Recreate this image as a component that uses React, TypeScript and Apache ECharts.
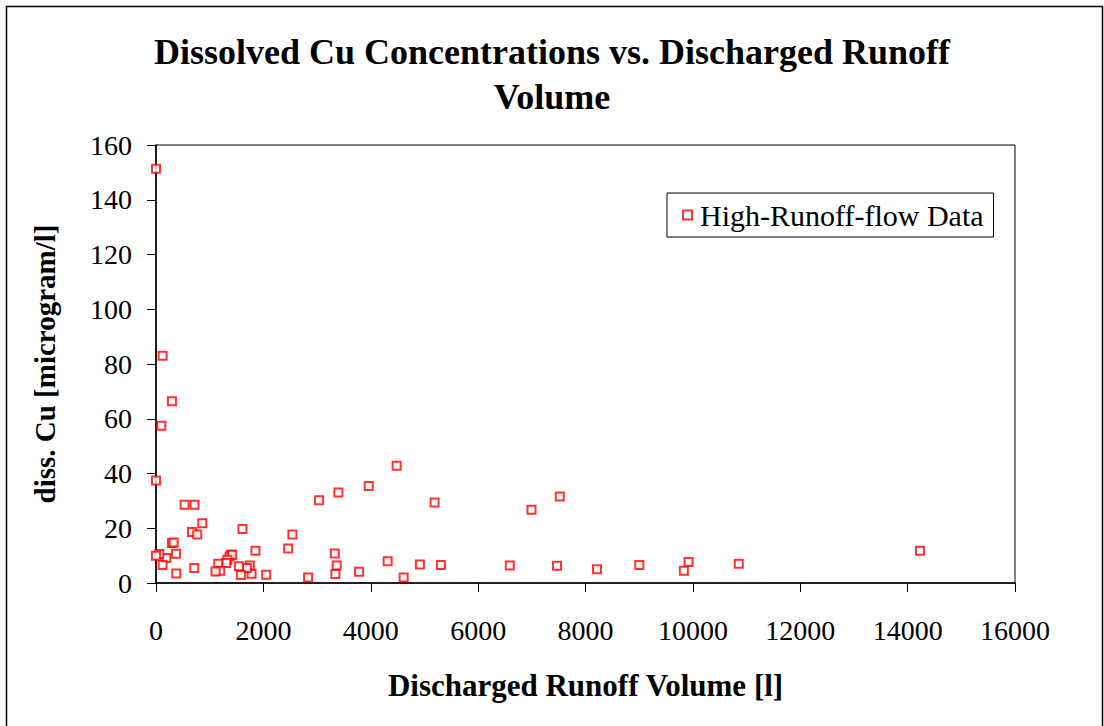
import React, { useEffect, useRef } from "react";
import * as echarts from "echarts";

const titleText = "Dissolved Cu Concentrations vs. Discharged Runoff\nVolume";
const xAxisName = "Discharged Runoff Volume [l]";
const yAxisName = "diss. Cu [microgram/l]";
const seriesName = "High-Runoff-flow Data";

const runoffVolume: number[] = [
  0, 123, 297, 99, 0, 532, 718, 861, 670, 768,
  1611, 2541, 2461, 1853, 3037, 3397, 3962, 4483, 5189, 3329,
  3366, 3341, 3782, 4315, 4613, 4916, 5307, 2833, 2052, 1779,
  1748, 1692, 1581, 1544, 1395, 1370, 1420, 1330, 1308, 1159,
  1196, 1109, 712, 378, 372, 297, 330, 192, 123, 62,
  0, 6994, 7520, 6590, 7470, 8214, 9002, 9919, 9832, 10855,
  14229,
];
const dissCu: number[] = [
  151.3, 83, 66.4, 57.4, 37.4, 28.6, 28.6, 21.8, 18.6, 17.7,
  19.7, 17.7, 12.6, 11.8, 30.2, 33.1, 35.4, 42.8, 29.4, 10.8,
  6.4, 3.3, 4.1, 7.9, 2.0, 6.8, 6.6, 2.0, 3.0, 3.4,
  6.4, 5.5, 2.9, 6.1, 10.3, 9.7, 10.3, 8.5, 7.3, 7.0,
  4.5, 4.2, 5.5, 3.5, 10.7, 14.6, 14.8, 9.1, 6.6, 10.6,
  10.0, 26.8, 31.6, 6.4, 6.3, 5.0, 6.6, 7.7, 4.5, 7.0,
  11.8,
];

const FONT = "'Liberation Serif', 'Times New Roman', serif";

export default function App() {
  const ref = useRef<HTMLDivElement>(null);
  useEffect(() => {
    if (!ref.current) return;
    const chart = echarts.init(ref.current, null, { renderer: "svg" });
    const data = runoffVolume.map((x, i) => [x, dissCu[i]]);
    chart.setOption({
      animation: false,
      backgroundColor: "#fff",
      textStyle: { fontFamily: FONT },
      title: {
        text: titleText,
        left: "center",
        top: 29,
        padding: 0,
        textStyle: {
          fontFamily: FONT,
          fontSize: 36,
          fontWeight: "bold",
          color: "#000",
          lineHeight: 45,
        },
      },
      graphic: [
        {
          type: "rect",
          shape: { x: 6.5, y: 6.5, width: 1096, height: 740 },
          style: { fill: "none", stroke: "#000", lineWidth: 1.5 },
          silent: true,
        },
      ],
      legend: {
        left: 667,
        top: 193,
        padding: [7, 10, 7, 15],
        borderColor: "#000",
        borderWidth: 1,
        itemWidth: 9,
        itemHeight: 9,
        itemGap: 10,
        textStyle: { fontFamily: FONT, fontSize: 30, color: "#000", padding: [0, 0, 0, 3] },
        data: [{ name: seriesName, icon: "rect" }],
      },
      grid: {
        left: 156,
        top: 145,
        right: 89,
        bottom: 143,
        show: true,
        borderColor: "#000",
        borderWidth: 1,
        backgroundColor: "transparent",
      },
      xAxis: {
        type: "value",
        min: 0,
        max: 16000,
        interval: 2000,
        name: xAxisName,
        nameLocation: "middle",
        nameGap: 87,
        nameTextStyle: { fontFamily: FONT, fontSize: 31, fontWeight: "bold", color: "#000" },
        axisLine: { show: true, onZero: false, lineStyle: { color: "#000", width: 1.5 } },
        axisTick: { show: true, inside: false, length: 9, lineStyle: { color: "#000" } },
        axisLabel: {
          fontFamily: FONT,
          fontSize: 28,
          color: "#000",
          margin: 33,
          formatter: (v: number) => String(v),
        },
        splitLine: { show: false },
      },
      yAxis: {
        type: "value",
        min: 0,
        max: 160,
        interval: 20,
        name: yAxisName,
        nameLocation: "middle",
        nameGap: 97,
        nameRotate: 90,
        nameTextStyle: { fontFamily: FONT, fontSize: 29, fontWeight: "bold", color: "#000" },
        axisLine: { show: true, onZero: false, lineStyle: { color: "#000", width: 1.5 } },
        axisTick: { show: true, inside: false, length: 9, lineStyle: { color: "#000" } },
        axisLabel: {
          fontFamily: FONT,
          fontSize: 28,
          color: "#000",
          margin: 24,
          formatter: (v: number) => String(v),
        },
        splitLine: { show: false },
      },
      series: [
        {
          name: seriesName,
          type: "scatter",
          symbol: "rect",
          symbolSize: 8,
          data,
          itemStyle: { color: "#fff", borderColor: "#ff0000", borderWidth: 2 },
        },
      ],
    });
    return () => chart.dispose();
  }, []);
  return (
    <div
      ref={ref}
      style={{ position: "absolute", left: 0, top: 0, width: 1104, height: 726 }}
    />
  );
}
